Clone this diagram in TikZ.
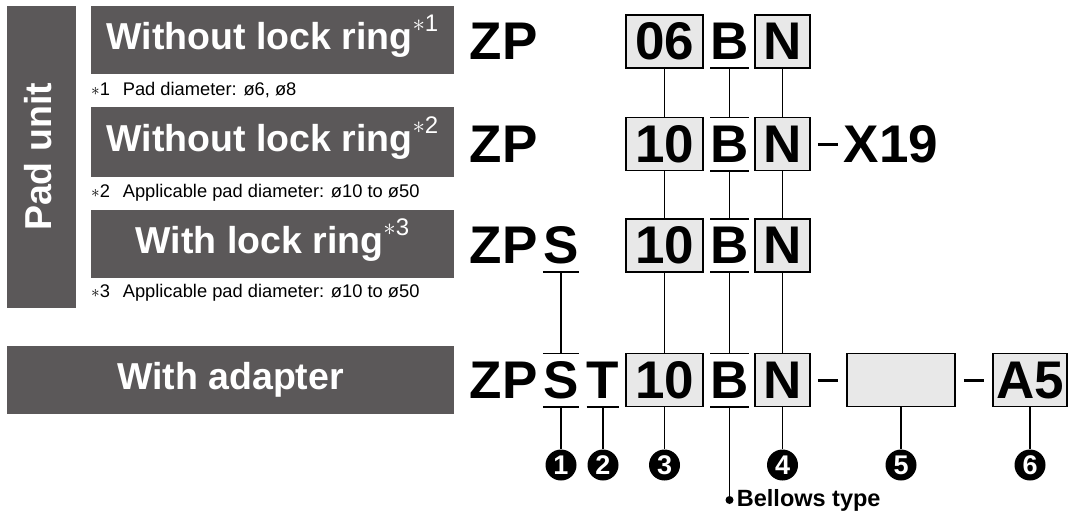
\documentclass[tikz,border=0pt]{standalone}
\usepackage{fontspec}
\setmainfont{Liberation Sans}
\definecolor{dgray}{RGB}{91,88,89}
\definecolor{lgray}{RGB}{232,232,232}
\newcommand\fnmark[1]{\raisebox{18pt}{\fontsize{24}{24}\selectfont\mdseries$\ast$#1}}
\begin{document}
\begin{tikzpicture}[x=1pt,y=-1pt,
 darkbox/.style={fill=dgray, text=white, font=\bfseries\fontsize{37.5}{40}\selectfont, inner sep=0pt, text height=27pt, text depth=8pt},
 code/.style={font=\bfseries\fontsize{53}{56}\selectfont, inner sep=0pt, text height=36.5pt, text depth=0pt, minimum height=53pt},
 codebox/.style={code, draw=black, line width=1.6pt, fill=lgray},
 note/.style={font=\fontsize{18.3}{20}\selectfont, anchor=west, inner sep=0pt},
 num/.style={circle, fill=black, text=white, minimum size=31pt, inner sep=0pt, font=\bfseries\fontsize{27}{27}\selectfont},
 link/.style={line width=1.6pt},
 bar/.style={line width=1.6pt},
 dashbar/.style={line width=3pt}]
\useasboundingbox (0,0) rectangle (1068,515);

% left headers
\node[darkbox, minimum width=302pt, minimum height=69pt, rotate=90] (pad) at (41.5,157) {Pad unit};
\node[darkbox, minimum width=363pt, minimum height=68pt] (h1) at (272.5,40) {Without lock ring\fnmark{1}};
\node[darkbox, minimum width=363pt, minimum height=70pt] (h2) at (272.5,142) {Without lock ring\fnmark{2}};
\node[darkbox, minimum width=363pt, minimum height=68pt] (h3) at (272.5,244) {With lock ring\fnmark{3}};
\node[darkbox, minimum width=447pt, minimum height=68pt] (h4) at (230.5,380) {With adapter};

\node[note] (f1) at (91,90) {$\ast$1\hspace{0.7em}Pad diameter: ø6, ø8};
\node[note] (f2) at (91,193) {$\ast$2\hspace{0.7em}Applicable pad diameter: ø10 to ø50};
\node[note] (f3) at (91,293) {$\ast$3\hspace{0.7em}Applicable pad diameter: ø10 to ø50};

% row 1
\node[code] (zp1) at (503.5,41.5) {ZP};
\node[codebox, minimum width=77pt] (d1) at (664.5,41.5) {06};
\node[code, minimum width=37pt] (b1) at (729.5,41.5) {B};
\node[codebox, minimum width=55pt] (n1) at (782.5,41.5) {N};
% row 2
\node[code] (zp2) at (503.5,144) {ZP};
\node[codebox, minimum width=77pt] (d2) at (664.5,144) {10};
\node[code, minimum width=37pt] (b2) at (729.5,144) {B};
\node[codebox, minimum width=55pt] (n2) at (782.5,144) {N};
\node[code] (x19) at (891,144) {X19};
% row 3
\node[code] (zp3) at (503.5,245.5) {ZP};
\node[code, minimum width=36pt] (s3) at (561,245.5) {S};
\node[codebox, minimum width=77pt] (d3) at (664.5,245.5) {10};
\node[code, minimum width=37pt] (b3) at (729.5,245.5) {B};
\node[codebox, minimum width=55pt] (n3) at (782.5,245.5) {N};
% row 4
\node[code] (zp4) at (503.5,380) {ZP};
\node[code, minimum width=36pt] (s4) at (561,380) {S};
\node[code, minimum width=32pt] (t4) at (603,380) {T};
\node[codebox, minimum width=77pt] (d4) at (664.5,380) {10};
\node[code, minimum width=37pt] (b4) at (729.5,380) {B};
\node[codebox, minimum width=55pt] (n4) at (782.5,380) {N};
\node[codebox, minimum width=108pt] (o5) at (901,380) {};
\node[codebox, minimum width=74pt] (a5) at (1030,380) {A5};

% bars
\draw[bar] (b1.south west) -- (b1.south east);
\foreach \n in {b2,b3,b4,s4}{
  \draw[bar] (\n.north west) -- (\n.north east);
  \draw[bar] (\n.south west) -- (\n.south east);
}
\draw[bar] (s3.south west) -- (s3.south east);
\draw[bar] (t4.south west) -- (t4.south east);

% dashes
\draw[dashbar] ([xshift=7pt]n2.east) -- ([xshift=-6pt]x19.west);
\draw[dashbar] ([xshift=7pt]n4.east) -- ([xshift=-8pt]o5.west);
\draw[dashbar] ([xshift=8pt]o5.east) -- ([xshift=-8pt]a5.west);

% number circles
\coordinate (cy) at (0,465);
\node[num] (c1) at (s4 |- cy) {1};
\node[num] (c2) at (t4 |- cy) {2};
\node[num] (c3) at (d4 |- cy) {3};
\node[num] (c4) at (n4 |- cy) {4};
\node[num] (c5) at (o5 |- cy) {5};
\node[num] (c6) at (a5 |- cy) {6};

% bellows
\coordinate (by) at (0,500);
\node[circle, fill=black, inner sep=0pt, minimum size=8pt] (dot) at (b4 |- by) {};
\node[font=\bfseries\fontsize{23.5}{25}\selectfont, anchor=west, inner sep=0pt] (bel) at ([xshift=3pt]dot.east) {Bellows type};

% links
\draw[link] (d1.south) -- (d2.north);
\draw[link] (d2.south) -- (d3.north);
\draw[link] (d3.south) -- (d4.north);
\draw[link] (d4.south) -- (c3.north);
\draw[link] (b1.south) -- (b2.north);
\draw[link] (b2.south) -- (b3.north);
\draw[link] (b3.south) -- (b4.north);
\draw[link] (b4.south) -- (dot);
\draw[link] (n1.south) -- (n2.north);
\draw[link] (n2.south) -- (n3.north);
\draw[link] (n3.south) -- (n4.north);
\draw[link] (n4.south) -- (c4.north);
\draw[link] (s3.south) -- (s4.north);
\draw[link] (s4.south) -- (c1.north);
\draw[link] (t4.south) -- (c2.north);
\draw[link] (o5.south) -- (c5.north);
\draw[link] (a5.south) -- (c6.north);
\end{tikzpicture}
\end{document}
